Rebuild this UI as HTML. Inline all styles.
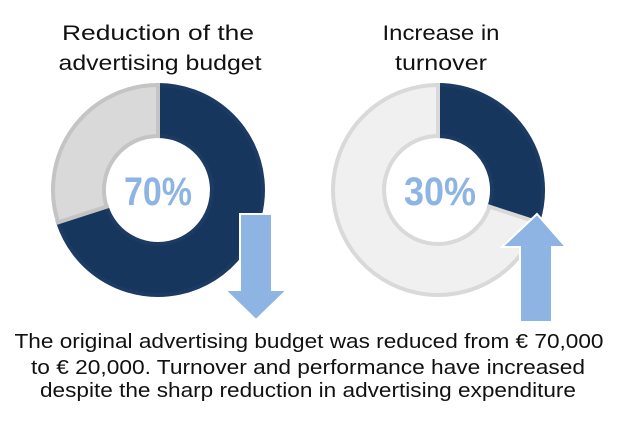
<!DOCTYPE html>
<html><head><meta charset="utf-8"><style>html,body{margin:0;padding:0;background:#fff}svg{display:block}</style></head>
<body>
<svg width="617" height="428" viewBox="0 0 617 428" xmlns="http://www.w3.org/2000/svg" font-family="Liberation Sans, sans-serif">
<g font-size="21" fill="#111" text-anchor="middle">
<text x="158" y="40" textLength="192" lengthAdjust="spacingAndGlyphs">Reduction of the</text>
<text x="160" y="70" textLength="203" lengthAdjust="spacingAndGlyphs">advertising budget</text>
<text x="441" y="40" textLength="117" lengthAdjust="spacingAndGlyphs">Increase in</text>
<text x="441" y="70" textLength="92" lengthAdjust="spacingAndGlyphs">turnover</text>
</g>
<!-- left donut: center 158,190 R105 r54 ; 70% dark -->
<g stroke-width="4">
<path d="M158 85 A105 105 0 1 1 58.1 222.4 L106.6 206.7 A54 54 0 1 0 158 136 Z" fill="#17365d" stroke="#1c3a62"/>
<path d="M58.1 222.4 A105 105 0 0 1 158 85 L158 136 A54 54 0 0 0 106.6 206.7 Z" fill="#d9d9d9" stroke="#c4c4c4"/>
</g>
<!-- right donut: center 438,190 ; 30% dark -->
<g stroke-width="4">
<path d="M438 85 A105 105 0 0 1 537.9 222.4 L489.4 206.7 A54 54 0 0 0 438 136 Z" fill="#17365d" stroke="#1c3a62"/>
<path d="M537.9 222.4 A105 105 0 1 1 438 85 L438 136 A54 54 0 1 0 489.4 206.7 Z" fill="#f0f0f0" stroke="#d9d9d9"/>
</g>
<g font-size="40" font-weight="bold" fill="#8db4e2" text-anchor="middle">
<text x="158" y="205" textLength="68" lengthAdjust="spacingAndGlyphs">70%</text>
<text x="440" y="205" textLength="72" lengthAdjust="spacingAndGlyphs">30%</text>
</g>
<!-- arrows -->
<path d="M240 214 L272 214 L272 290 L287 290 L256 320 L225 290 L240 290 Z" fill="#8db4e2" stroke="#fff" stroke-width="2"/>
<path d="M537 214 L566 247 L552 247 L552 322 L520 322 L520 247 L502 247 Z" fill="#8db4e2" stroke="#fff" stroke-width="2"/>
<g font-size="20" fill="#111" text-anchor="middle">
<text x="309" y="348" textLength="589" lengthAdjust="spacingAndGlyphs">The original advertising budget was reduced from € 70,000</text>
<text x="308" y="374" textLength="554" lengthAdjust="spacingAndGlyphs">to € 20,000. Turnover and performance have increased</text>
<text x="308" y="397" textLength="536" lengthAdjust="spacingAndGlyphs">despite the sharp reduction in advertising expenditure</text>
</g>
</svg>
</body></html>
